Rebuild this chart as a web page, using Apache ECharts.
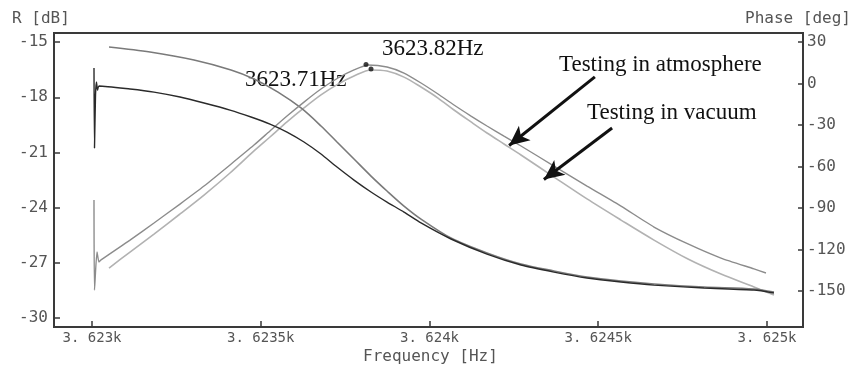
<!DOCTYPE html>
<html>
<head>
<meta charset="utf-8">
<script src="https://cdn.jsdelivr.net/npm/echarts@6/dist/echarts.min.js"></script>
<style>
html,body{margin:0;padding:0;background:#fff;}
#chart{width:853px;height:371px;}
</style>
</head>
<body>
<div id="chart"></div>
<script>
// ---- tick values / labels ----
const xTickValues = [3623, 3623.5, 3624, 3624.5, 3625];
const xTickLabels = ['3. 623k', '3. 6235k', '3. 624k', '3. 6245k', '3. 625k'];
const rTicks = [-15, -18, -21, -24, -27, -30];
const phaseTicks = [30, 0, -30, -60, -90, -120, -150];

// ---- amplitude R [dB], upper trace (with start transient) ----
const ampUpperFreq = [3623.0059, 3623.0074, 3623.0148, 3623.0207, 3623.0267, 3623.1126, 3623.1837, 3623.2607, 3623.3319, 3623.4089, 3623.4800, 3623.5274, 3623.5778, 3623.6281, 3623.6785, 3623.7289, 3623.7763, 3623.8178, 3623.8741, 3623.9244, 3623.9748, 3624.0252, 3624.0726, 3624.1230, 3624.1704, 3624.2207, 3624.2711, 3624.3689, 3624.4667, 3624.5674, 3624.6652, 3624.7659, 3624.8637, 3624.9615, 3624.9970];
const ampUpperDB   = [-23.59, -28.49, -26.42, -26.96, -26.85, -25.77, -24.84, -23.81, -22.83, -21.68, -20.60, -19.83, -19.02, -18.26, -17.55, -16.95, -16.51, -16.24, -16.35, -16.68, -17.22, -17.82, -18.42, -19.02, -19.56, -20.11, -20.65, -21.74, -22.83, -23.92, -25.06, -25.98, -26.75, -27.34, -27.56];

// ---- amplitude R [dB], lower trace ----
const ampLowerFreq = [3623.0504, 3623.1126, 3623.1837, 3623.2607, 3623.3319, 3623.4089, 3623.4800, 3623.5274, 3623.5778, 3623.6281, 3623.6785, 3623.7289, 3623.7763, 3623.8267, 3623.8741, 3623.9244, 3623.9748, 3624.0252, 3624.0726, 3624.1230, 3624.1704, 3624.2207, 3624.2711, 3624.3689, 3624.4667, 3624.5674, 3624.6652, 3624.7659, 3624.8637, 3624.9615, 3625.0207];
const ampLowerDB   = [-27.29, -26.42, -25.44, -24.35, -23.32, -22.12, -20.92, -20.16, -19.34, -18.58, -17.87, -17.28, -16.84, -16.51, -16.57, -16.90, -17.44, -18.04, -18.69, -19.34, -19.94, -20.54, -21.14, -22.34, -23.53, -24.68, -25.77, -26.80, -27.62, -28.32, -28.76];

// ---- phase [deg], upper trace ----
const phaseUpperFreq = [3623.0504, 3623.1719, 3623.3022, 3623.4119, 3623.4800, 3623.5511, 3623.6193, 3623.6785, 3623.7259, 3623.7763, 3623.8267, 3623.8741, 3623.9244, 3623.9748, 3624.0637, 3624.1704, 3624.2711, 3624.3689, 3624.4667, 3624.5674, 3624.6652, 3624.8133, 3624.9615, 3625.0207];
const phaseUpperDeg  = [26.4, 22.8, 17.0, 9.8, 3.3, -6.2, -17.7, -30.7, -42.3, -54.6, -66.9, -77.7, -88.6, -98.0, -111.7, -122.5, -130.5, -135.5, -139.9, -142.8, -144.9, -147.1, -148.5, -150.7];

// ---- phase [deg], lower trace (with start transient) ----
const phaseLowerFreq = [3623.0059, 3623.0074, 3623.0104, 3623.0133, 3623.0163, 3623.0207, 3623.1126, 3623.1837, 3623.2607, 3623.3319, 3623.4089, 3623.4711, 3623.5274, 3623.5778, 3623.6281, 3623.6785, 3623.7259, 3623.7763, 3623.8267, 3623.8741, 3623.9244, 3623.9748, 3624.0637, 3624.1704, 3624.2711, 3624.3689, 3624.4667, 3624.5674, 3624.6652, 3624.8133, 3624.9615, 3625.0207];
const phaseLowerDeg  = [11.2, -46.6, -8.3, 1.1, -4.7, -1.8, -4.0, -6.2, -9.8, -14.1, -19.2, -24.2, -29.3, -35.1, -42.3, -51.0, -60.4, -69.8, -78.4, -85.7, -92.9, -100.8, -112.4, -123.3, -131.2, -136.3, -140.6, -143.5, -145.7, -147.8, -149.3, -151.4];

// ---- resonance peak markers ----
const peakFreq = [3623.8119, 3623.8267];
const peakDB   = [-16.22, -16.46];

// ---- annotation arrows: [tailFreq, tailDB, tipFreq, tipDB] ----
const arrowAtm = [3624.490, -16.89, 3624.236, -20.62];
const arrowVac = [3624.541, -19.67, 3624.339, -22.47];

const zip = (a, b) => a.map((v, i) => [v, b[i]]);

const chart = echarts.init(document.getElementById('chart'));
const monoLabel = {fontFamily: 'DejaVu Sans Mono', color: '#555'};
const axisLineStyle = {color: '#3a3a3a', width: 2};

const option = {
  animation: false,
  backgroundColor: '#fff',
  grid: {left: 54, right: 50, top: 33, bottom: 44, show: true, borderColor: '#3a3a3a', borderWidth: 2, backgroundColor: 'transparent'},
  xAxis: {
    type: 'value', min: 3622.8874, max: 3625.1067,
    axisLine: {show: true, onZero: false, lineStyle: axisLineStyle},
    axisTick: {show: true, inside: true, length: 6, customValues: xTickValues, lineStyle: {color: '#3a3a3a', width: 1.5}},
    axisLabel: Object.assign({fontSize: 14, margin: 4, customValues: xTickValues,
      formatter: v => { const i = xTickValues.findIndex(t => Math.abs(t - v) < 1e-6); return i >= 0 ? xTickLabels[i] : ''; }}, monoLabel),
    splitLine: {show: false}
  },
  yAxis: [
    {
      type: 'value', min: -30.5, max: -14.5, position: 'left',
      axisLine: {show: true, onZero: false, lineStyle: axisLineStyle},
      axisTick: {show: true, inside: true, length: 6, customValues: rTicks, lineStyle: {color: '#3a3a3a', width: 1.5}},
      axisLabel: Object.assign({fontSize: 16, margin: 6, customValues: rTicks}, monoLabel),
      splitLine: {show: false}
    },
    {
      type: 'value', min: -176, max: 36.5, position: 'right',
      axisLine: {show: true, onZero: false, lineStyle: axisLineStyle},
      axisTick: {show: true, inside: true, length: 5, customValues: phaseTicks, lineStyle: {color: '#3a3a3a', width: 1.5}},
      axisLabel: Object.assign({fontSize: 16, margin: 4, customValues: phaseTicks}, monoLabel),
      splitLine: {show: false}
    }
  ],
  series: [
    {
      name: 'Phase upper', type: 'line', yAxisIndex: 1, data: zip(phaseUpperFreq, phaseUpperDeg),
      showSymbol: false, smooth: 0.3, lineStyle: {color: '#7a7a7a', width: 1.6}, z: 3
    },
    {
      name: 'Phase lower', type: 'line', yAxisIndex: 1, data: zip(phaseLowerFreq, phaseLowerDeg),
      showSymbol: false, smooth: 0.2, lineStyle: {color: '#2a2a2a', width: 1.4}, z: 4
    },
    {
      name: 'R atmosphere', type: 'line', yAxisIndex: 0, data: zip(ampUpperFreq, ampUpperDB),
      showSymbol: false, smooth: 0.2, lineStyle: {color: '#8c8c8c', width: 1.4}, z: 3,
      markLine: {
        silent: true, animation: false, label: {show: false},
        lineStyle: {color: '#111', width: 3, type: 'solid'},
        data: [
          [{coord: [arrowAtm[0], arrowAtm[1]], symbol: 'none'}, {coord: [arrowAtm[2], arrowAtm[3]], symbol: 'arrow', symbolSize: [14, 20]}],
          [{coord: [arrowVac[0], arrowVac[1]], symbol: 'none'}, {coord: [arrowVac[2], arrowVac[3]], symbol: 'arrow', symbolSize: [14, 20]}]
        ]
      }
    },
    {
      name: 'R vacuum', type: 'line', yAxisIndex: 0, data: zip(ampLowerFreq, ampLowerDB),
      showSymbol: false, smooth: 0.3, lineStyle: {color: '#b2b2b2', width: 1.6}, z: 2
    },
    {
      name: 'Peaks', type: 'scatter', yAxisIndex: 0, data: zip(peakFreq, peakDB),
      symbol: 'circle', symbolSize: 5, itemStyle: {color: '#111'}, z: 6
    }
  ],
  graphic: [
    {type: 'text', left: 12, top: 11, style: {text: 'R [dB]', fontFamily: 'DejaVu Sans Mono', fontSize: 16, fill: '#555'}},
    {type: 'text', right: 2, top: 11, style: {text: 'Phase [deg]', fontFamily: 'DejaVu Sans Mono', fontSize: 16, fill: '#555'}},
    {type: 'text', left: 363, top: 349, style: {text: 'Frequency [Hz]', fontFamily: 'DejaVu Sans Mono', fontSize: 16, fill: '#555'}},
    {type: 'text', x: 382, y: 49, style: {text: '3623.82Hz', fontFamily: 'Liberation Serif', fontSize: 23, fill: '#111', verticalAlign: 'middle'}},
    {type: 'text', x: 245, y: 80, style: {text: '3623.71Hz', fontFamily: 'Liberation Serif', fontSize: 23, fill: '#111', verticalAlign: 'middle'}},
    {type: 'text', x: 559, y: 65, style: {text: 'Testing in atmosphere', fontFamily: 'Liberation Serif', fontSize: 23, fill: '#111', verticalAlign: 'middle'}},
    {type: 'text', x: 587, y: 113, style: {text: 'Testing in vacuum', fontFamily: 'Liberation Serif', fontSize: 23, fill: '#111', verticalAlign: 'middle'}}
  ]
};
chart.setOption(option);
</script>
</body>
</html>
